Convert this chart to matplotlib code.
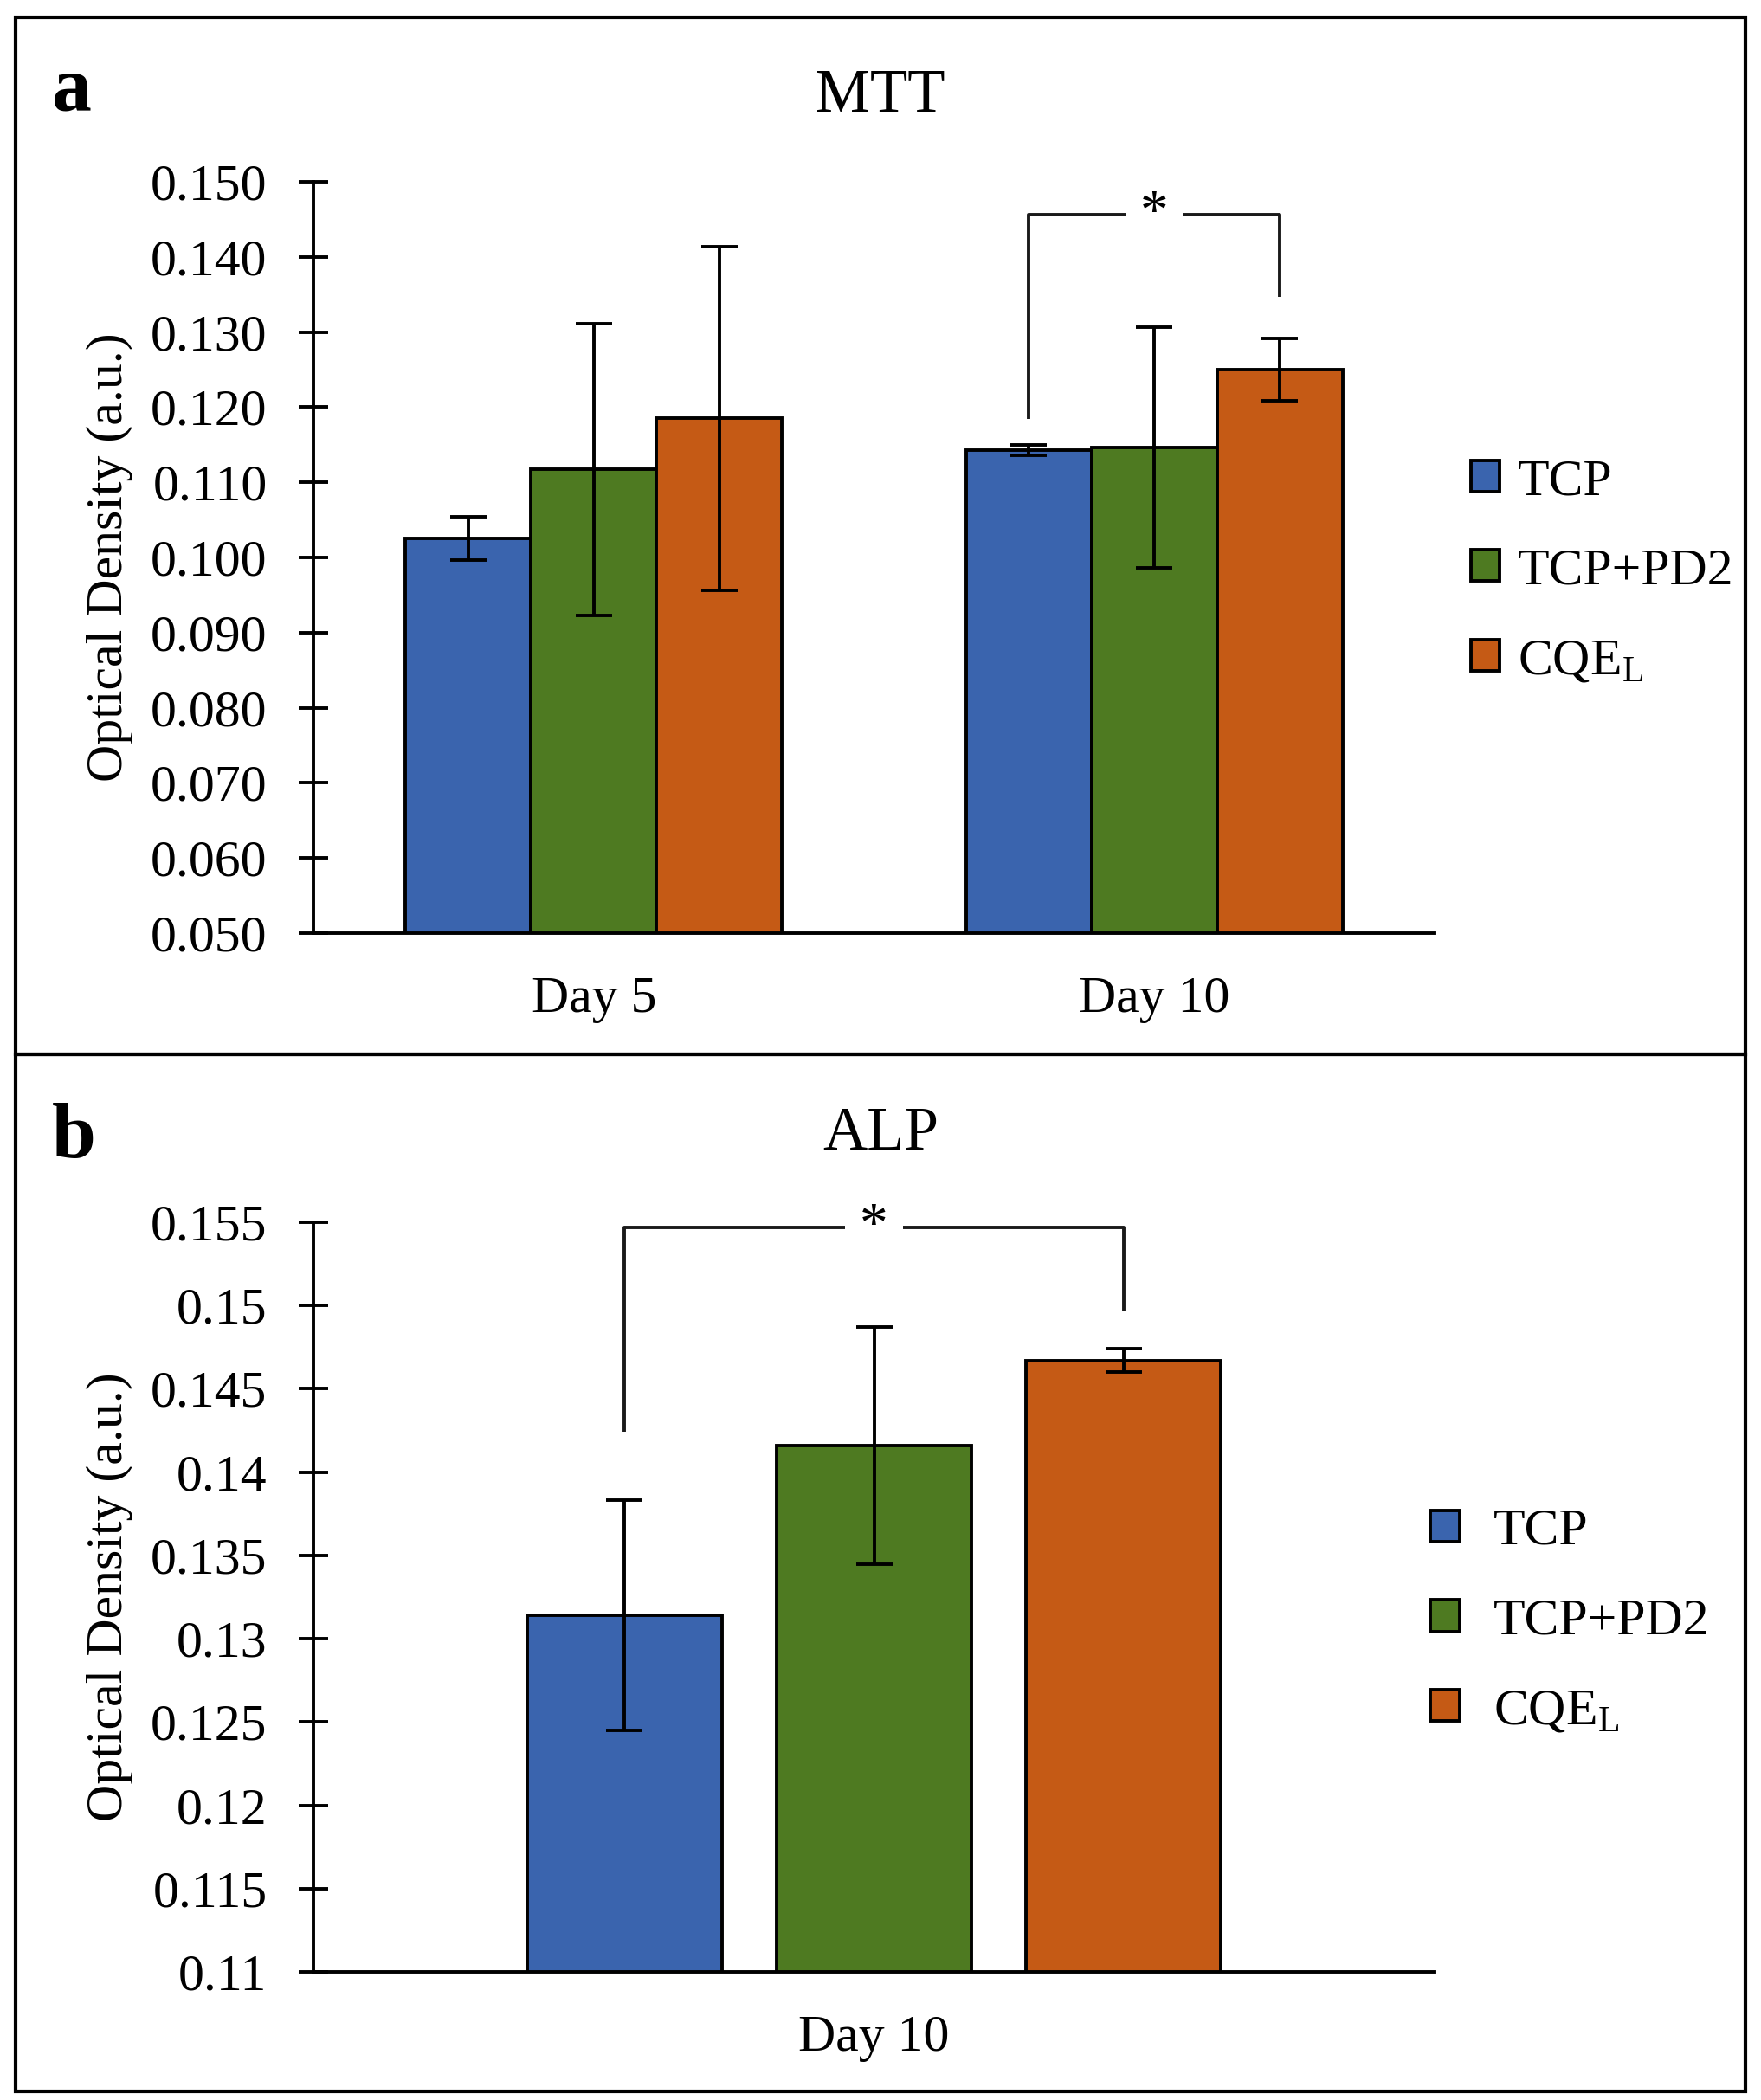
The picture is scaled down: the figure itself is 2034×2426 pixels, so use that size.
""" MTT / ALP optical density bar charts. """
import numpy as np
import matplotlib.pyplot as plt
from matplotlib.patches import Rectangle, Patch

plt.rcParams['font.family'] = ['Liberation Serif', 'DejaVu Serif']
plt.rcParams['mathtext.fontset'] = 'stix'

groups = ['TCP', 'TCP+PD2', 'CQE$_\\mathregular{L}$']
colors = ['#3A64AE', '#4E7A21', '#C55A15']

# panel a: MTT
mtt_days = ['Day 5', 'Day 10']
mtt_mean = [[0.1025, 0.1143],   # TCP
            [0.1117, 0.1146],   # TCP+PD2
            [0.1185, 0.1250]]   # CQE_L
mtt_err = [[0.0029, 0.0007],
           [0.0194, 0.0160],
           [0.0229, 0.0042]]
mtt_ticks = np.arange(0.05, 0.1501, 0.01)
mtt_sig = (1, 0, 2, 0.1456, 0.1184, 0.1347)  # day idx, group a, group b, top, leg a, leg b

# panel b: ALP
alp_days = ['Day 10']
alp_mean = [[0.1314], [0.1416], [0.1467]]
alp_err = [[0.0069], [0.0071], [0.0007]]
alp_ticks = np.arange(0.11, 0.1551, 0.005)
alp_tick_labels = ['0.11', '0.115', '0.12', '0.125', '0.13', '0.135',
                   '0.14', '0.145', '0.15', '0.155']
alp_sig = (0, 0, 2, 0.1547, 0.1424, 0.1497)

FS = 43
LW = 2.8
W, H = 2034, 2426


def style_axis(ax, ticks, labels, ylim):
    ax.set_ylim(*ylim)
    ax.set_yticks(ticks)
    ax.set_yticklabels(labels, fontsize=FS)
    for s in ('top', 'right'):
        ax.spines[s].set_visible(False)
    for s in ('left', 'bottom'):
        ax.spines[s].set_linewidth(LW)
    ax.tick_params(axis='y', direction='inout', length=25, width=LW, pad=26)
    ax.tick_params(axis='x', length=0, pad=36, labelsize=FS)
    ax.set_ylabel('Optical Density (a.u.)', fontsize=FS)
    ax.yaxis.set_label_coords(-0.161, 0.5)


def draw_bars(ax, days, means, errs, width, step):
    x = np.arange(len(days))
    centers = []
    for i, (m, e, c) in enumerate(zip(means, errs, colors)):
        xi = x + (i - 1) * step
        ax.bar(xi, m, width, color=c, edgecolor='black', linewidth=LW, zorder=2)
        ax.errorbar(xi, m, yerr=e, fmt='none', ecolor='black', elinewidth=LW,
                    capsize=15, capthick=LW, zorder=3)
        centers.append(xi)
    ax.set_xticks(x)
    ax.set_xticklabels(days)
    ax.set_xlim(-0.5, len(days) - 0.5)
    return centers


def bracket(ax, centers, sig, gap):
    d, a, b, top, la, lb = sig
    xa, xb = centers[a][d], centers[b][d]
    xm = (xa + xb) / 2
    kw = dict(color='#1a1a1a', linewidth=LW, solid_capstyle='butt')
    ax.plot([xa, xa, xm - gap], [la, top, top], **kw)
    ax.plot([xm + gap, xb, xb], [top, top, lb], **kw)
    ax.text(xm, top, '*', fontsize=FS + 4, ha='center', va='center')


fig = plt.figure(figsize=(W / 100, H / 100), dpi=100)

ax1 = fig.add_axes([362 / W, 1 - 1078 / H, 1295 / W, 868 / H])
c1 = draw_bars(ax1, mtt_days, mtt_mean, mtt_err, 0.224, 0.224)
style_axis(ax1, mtt_ticks, [f'{t:.3f}' for t in mtt_ticks], (0.05, 0.15))
bracket(ax1, c1, mtt_sig, 0.05)

ax2 = fig.add_axes([362 / W, 1 - 2278 / H, 1295 / W, 866 / H])
c2 = draw_bars(ax2, alp_days, alp_mean, alp_err, 0.1745, 0.2224)
style_axis(ax2, alp_ticks, alp_tick_labels, (0.11, 0.155))
bracket(ax2, c2, alp_sig, 0.026)

handles = [Patch(facecolor=c, edgecolor='black', linewidth=LW) for c in colors]
fig.legend(handles, groups, loc='upper left', bbox_to_anchor=(1699 / W, 1 - 530 / H),
           frameon=False, fontsize=FS, handlelength=0.55, handleheight=0.55,
           handletextpad=0.35, labelspacing=0.83, borderpad=0, borderaxespad=0)
fig.legend(handles, groups, loc='upper left', bbox_to_anchor=(1652 / W, 1 - 1743 / H),
           frameon=False, fontsize=FS, handlelength=0.57, handleheight=0.57,
           handletextpad=0.65, labelspacing=0.83, borderpad=0, borderaxespad=0)

# titles and panel letters
fig.text(0.5, 1 - 129 / H, 'MTT', fontsize=51, ha='center', va='baseline')
fig.text(0.5, 1 - 1328 / H, 'ALP', fontsize=51, ha='center', va='baseline')
fig.text(60 / W, 1 - 128 / H, 'a', fontsize=66, fontweight='bold', va='baseline')
fig.text(60 / W, 1 - 1337 / H, 'b', fontsize=66, fontweight='bold', va='baseline')

# panel frames
for y0, y1 in ((20, 1218), (1218, 2416)):
    fig.add_artist(Rectangle((18 / W, 1 - y1 / H), (2016 - 18) / W, (y1 - y0) / H,
                             transform=fig.transFigure, fill=False,
                             edgecolor='black', linewidth=3))

fig.savefig('out.png', dpi=100)
